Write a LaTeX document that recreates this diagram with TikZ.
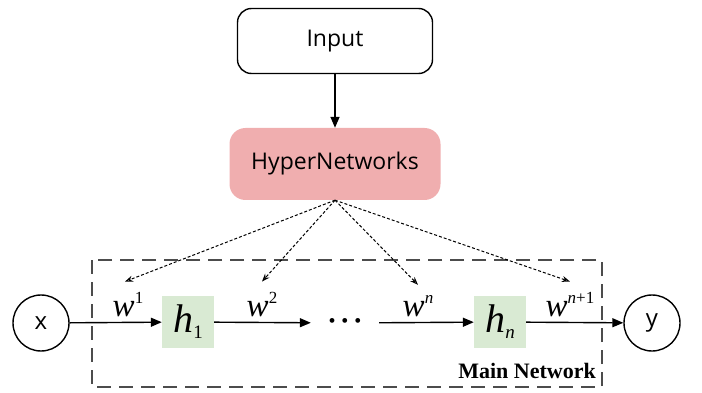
\documentclass[tikz,border=0pt]{standalone}
\usepackage{fontspec}
\setmainfont{Liberation Serif}
\newfontfamily\uisans{Open Sans}
\usetikzlibrary{arrows.meta}
\tikzset{>={Triangle[length=11pt,width=9pt]}}
\definecolor{hyperpink}{RGB}{240,174,175}
\definecolor{hgreen}{RGB}{217,234,211}
\newcommand*{\wt}[1]{\fontsize{33}{33}\selectfont\itshape w\raisebox{13pt}{\fontsize{17}{17}\selectfont#1}}
\newcommand*{\hs}[1]{\fontsize{40}{40}\selectfont\itshape h\raisebox{-6pt}{\fontsize{19}{19}\selectfont#1}}

\begin{document}
\begin{tikzpicture}[x=1pt,y=-1pt,
  box/.style={draw,line width=1.4pt,rounded corners=14pt,
    minimum width=195pt,minimum height=65pt,
    font=\uisans\fontsize{23}{27}\selectfont},
  hyper/.style={fill=hyperpink,rounded corners=16pt,
    minimum width=211pt,minimum height=72pt,
    font=\uisans\fontsize{23}{27}\selectfont},
  circ/.style={draw,circle,line width=1.4pt,minimum size=56pt,
    inner sep=0pt,font=\uisans\fontsize{24}{27}\selectfont},
  hbox/.style={fill=hgreen,minimum size=52pt,inner sep=0pt},
  wlab/.style={anchor=base,inner sep=0pt},
  main/.style={->,line width=1.4pt},
  dotarrow/.style={-{Stealth[length=8pt,width=6pt,open]},line width=1pt,
    dash pattern=on 3pt off 2pt},
  frame/.style={line width=2.2pt,draw=black!70,dash pattern=on 14pt off 8pt}]
\useasboundingbox (0,0) rectangle (702,393);
\draw[frame] (92,260) rectangle (602,387);
\node[box] (input) at (335,41) {Input};
\node[hyper] (hyper) at (335,164) {HyperNetworks};
\draw[main] (input) -- (hyper);
\node[circ] (x) at (41,323) {x};
\node[circ] (y) at (652,323) {y};
\node[hbox] (h1) at (188,322) {\hs{\upshape 1}};
\node[hbox] (hn) at (500,322) {\hs{n}};
\node[minimum width=68pt] (dots) at (345,323)
  {\fontsize{20}{20}\selectfont\textbullet\kern6pt\textbullet\kern6pt\textbullet};
\draw[main] (x) -- (h1);
\draw[main] (h1) -- (dots);
\draw[main] (dots) -- (hn);
\draw[main] (hn) -- (y);
\node[wlab] (w1) at (128,316) {\wt{\upshape 1}};
\node[wlab] (w2) at (262,316) {\wt{\upshape 2}};
\node[wlab] (wn) at (418,316) {\wt{n}};
\node[wlab] (wn1) at (570,316) {\wt{n\upshape+1}};
\foreach \w/\dx in {w1/-3,w2/0,wn/0,wn1/0}
  \draw[dotarrow] (hyper.south) -- ([xshift=\dx pt,yshift=10pt]\w.north);
\node[anchor=base east,inner sep=0pt,font=\bfseries\fontsize{22}{24}\selectfont]
  (mainlab) at (596,378) {Main Network};
\end{tikzpicture}
\end{document}
